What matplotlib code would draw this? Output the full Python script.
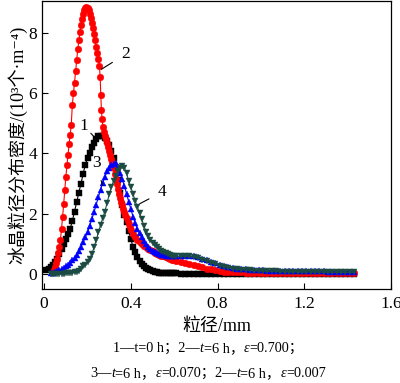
import matplotlib
matplotlib.use("Agg")
import matplotlib.pyplot as plt

FAM = ["Liberation Serif", "Noto Sans CJK SC", "DejaVu Serif"]
plt.rcParams["font.family"] = FAM

# ---- data ------------------------------------------------------------------
# shared tail grid (all four curves), mm
x_tail = [0.63, 0.65, 0.67, 0.69, 0.71, 0.73, 0.75, 0.77, 0.79, 0.81,
          0.83, 0.85, 0.87, 0.89, 0.91, 0.93, 0.95, 0.97, 0.99, 1.01,
          1.03, 1.05, 1.07, 1.09, 1.11, 1.13, 1.15, 1.17, 1.19, 1.21,
          1.23, 1.25, 1.27, 1.29, 1.31, 1.33, 1.35, 1.37, 1.39, 1.41, 1.43]

# curve 1: t = 0 h
x1 = [0.01, 0.02, 0.03, 0.04, 0.05, 0.06, 0.07, 0.08, 0.09, 0.10,
      0.11, 0.12, 0.13, 0.14, 0.15, 0.16, 0.17, 0.18, 0.19, 0.20,
      0.21, 0.22, 0.23, 0.24, 0.25, 0.26, 0.27, 0.28, 0.29, 0.30,
      0.31, 0.32, 0.33, 0.34, 0.35, 0.36, 0.37, 0.38, 0.39, 0.40,
      0.41, 0.42, 0.43, 0.44, 0.45, 0.46, 0.47, 0.48, 0.49, 0.50,
      0.51, 0.52, 0.53, 0.54, 0.55, 0.56, 0.57, 0.58, 0.59, 0.60, 0.61]
y1 = [0.14, 0.17, 0.22, 0.29, 0.38, 0.50, 0.66, 0.84, 1.00, 1.17,
      1.32, 1.50, 1.76, 2.07, 2.38, 2.70, 3.00, 3.33, 3.63, 3.85,
      4.02, 4.20, 4.36, 4.48, 4.56, 4.59, 4.57, 4.50, 4.40, 4.27,
      4.08, 3.84, 3.50, 3.10, 2.70, 2.30, 1.96, 1.72, 1.44, 1.15,
      0.90, 0.73, 0.57, 0.43, 0.34, 0.27, 0.21, 0.16, 0.12, 0.09,
      0.06, 0.05, 0.04, 0.03, 0.03, 0.02, 0.02, 0.02, 0.02, 0.02, 0.02]
y1_tail = [0.01] * 41

# curve 2: t = 6 h, eps = 0.700
x2 = [0.040, 0.045, 0.050, 0.055, 0.060, 0.065, 0.070, 0.075, 0.080, 0.085,
      0.090, 0.095, 0.100, 0.105, 0.110, 0.115, 0.120, 0.125, 0.130, 0.135,
      0.140, 0.145, 0.150, 0.155, 0.160, 0.165, 0.170, 0.175, 0.180, 0.185,
      0.190, 0.195, 0.200, 0.205, 0.210, 0.215, 0.220, 0.225, 0.230, 0.235,
      0.240, 0.245, 0.250, 0.255, 0.258, 0.261, 0.264, 0.267, 0.271, 0.275,
      0.280, 0.285, 0.290, 0.295, 0.300, 0.305, 0.310, 0.315, 0.320, 0.325,
      0.330, 0.335, 0.340, 0.345, 0.350, 0.355, 0.360, 0.365, 0.370, 0.375,
      0.380, 0.385, 0.390, 0.395, 0.400, 0.41, 0.42, 0.43, 0.44, 0.45,
      0.46, 0.47, 0.48, 0.49, 0.50, 0.51, 0.52, 0.53, 0.54, 0.55,
      0.56, 0.57, 0.58, 0.59, 0.60, 0.61]
y2 = [0.05, 0.13, 0.24, 0.35, 0.50, 0.68, 0.90, 1.14, 1.48, 1.88,
      2.32, 2.78, 3.22, 3.60, 3.96, 4.30, 4.62, 4.95, 5.62, 6.00,
      6.35, 6.72, 7.10, 7.45, 7.75, 8.02, 8.25, 8.45, 8.62, 8.74,
      8.81, 8.84, 8.82, 8.74, 8.62, 8.50, 8.34, 8.15, 7.95, 7.75,
      7.54, 7.34, 7.14, 6.90, 6.55, 5.95, 5.45, 5.15, 4.88, 4.72,
      4.58, 4.48, 4.36, 4.22, 4.08, 3.95, 3.82, 3.68, 3.52, 3.33,
      3.15, 2.98, 2.82, 2.66, 2.52, 2.40, 2.28, 2.17, 2.06, 1.95,
      1.85, 1.75, 1.65, 1.55, 1.47, 1.33, 1.22, 1.13, 1.05, 0.99,
      0.93, 0.88, 0.83, 0.79, 0.75, 0.71, 0.67, 0.64, 0.61, 0.58,
      0.55, 0.52, 0.50, 0.47, 0.45, 0.43]
y2_tail = [0.40, 0.37, 0.34, 0.30, 0.26, 0.22, 0.18, 0.15, 0.12, 0.10,
           0.08, 0.07, 0.06, 0.05, 0.05, 0.04, 0.04, 0.04, 0.04, 0.04,
           0.03, 0.03, 0.03, 0.03, 0.03, 0.03, 0.03, 0.03, 0.03, 0.03,
           0.03, 0.03, 0.03, 0.03, 0.03, 0.03, 0.03, 0.03, 0.03, 0.03, 0.03]

# curves 3 and 4 share one grid below 0.62 mm
x34 = [0.03, 0.04, 0.05, 0.06, 0.07, 0.08, 0.09, 0.10,
       0.11, 0.12, 0.13, 0.14, 0.15, 0.16, 0.17, 0.18, 0.19, 0.20,
       0.21, 0.22, 0.23, 0.24, 0.25, 0.26, 0.27, 0.28, 0.29, 0.30,
       0.31, 0.32, 0.33, 0.34, 0.35, 0.36, 0.37, 0.38, 0.39, 0.40,
       0.41, 0.42, 0.43, 0.44, 0.45, 0.46, 0.47, 0.48, 0.49, 0.50,
       0.51, 0.52, 0.53, 0.54, 0.55, 0.56, 0.57, 0.58, 0.59, 0.60, 0.61]

# curve 3: t = 6 h, eps = 0.070
y3 = [0.02, 0.04, 0.06, 0.09, 0.12, 0.16, 0.20, 0.25,
      0.30, 0.37, 0.45, 0.54, 0.64, 0.76, 0.90, 1.05, 1.22, 1.40,
      1.60, 1.82, 2.05, 2.30, 2.55, 2.80, 3.02, 3.22, 3.40, 3.52,
      3.60, 3.65, 3.67, 3.55, 3.35, 3.14, 2.92, 2.66, 2.40, 2.15,
      1.90, 1.68, 1.50, 1.35, 1.22, 1.10, 0.98, 0.90, 0.82, 0.76,
      0.72, 0.69, 0.66, 0.64, 0.62, 0.61, 0.60, 0.60, 0.60, 0.59, 0.59]
y3_tail = [0.59, 0.60, 0.60, 0.58, 0.55, 0.50, 0.45, 0.40, 0.35, 0.30,
           0.26, 0.23, 0.20, 0.18, 0.16, 0.15, 0.14, 0.13, 0.12, 0.12,
           0.11, 0.11, 0.11, 0.10, 0.10, 0.10, 0.10, 0.10, 0.09, 0.09,
           0.09, 0.09, 0.09, 0.09, 0.08, 0.08, 0.08, 0.08, 0.08, 0.08, 0.08]

# curve 4: t = 6 h, eps = 0.007
y4 = [0.00, 0.00, 0.00, 0.00, 0.00, 0.01, 0.01, 0.02,
      0.02, 0.03, 0.04, 0.05, 0.07, 0.11, 0.17, 0.25, 0.31, 0.38,
      0.50, 0.66, 0.88, 1.12, 1.38, 1.62, 1.85, 2.07, 2.35, 2.64,
      2.88, 3.08, 3.26, 3.42, 3.53, 3.58, 3.52, 3.34, 3.08, 2.88,
      2.65, 2.42, 2.22, 2.02, 1.82, 1.60, 1.40, 1.25, 1.13, 1.03,
      0.95, 0.88, 0.82, 0.77, 0.72, 0.68, 0.65, 0.62, 0.60, 0.59, 0.58]
y4_tail = [0.58, 0.58, 0.58, 0.56, 0.52, 0.47, 0.42, 0.37, 0.32, 0.28,
           0.24, 0.21, 0.18, 0.16, 0.14, 0.13, 0.12, 0.11, 0.10, 0.10,
           0.09, 0.09, 0.09, 0.08, 0.08, 0.08, 0.08, 0.07, 0.07, 0.07,
           0.07, 0.07, 0.06, 0.06, 0.06, 0.06, 0.06, 0.05, 0.05, 0.05, 0.05]

x_ticks = [0, 0.4, 0.8, 1.2, 1.6]
x_ticklabels = ["0", "0.4", "0.8", "1.2", "1.6"]
y_ticks = [0, 2, 4, 6, 8]

# ---- plot -------------------------------------------------------------------
fig = plt.figure(figsize=(4.0, 3.83), dpi=100)
ax = fig.add_axes([0.105, 0.2454, 0.8725, 0.7516])

series = [
    (x1, y1, y1_tail, "#000000", "s", 4.0),
    (x2, y2, y2_tail, "#ff0000", "o", 4.8),
    (x34, y3, y3_tail, "#0000ff", "^", 4.6),
    (x34, y4, y4_tail, "#1b4b43", "v", 4.6),
]
for xs, ys, ys_tail, col, mk, ms in series:
    ax.plot(list(xs) + x_tail, list(ys) + ys_tail, "-", color=col, lw=0.8,
            marker=mk, ms=ms, mec=col, mfc=col, mew=0.3)

# curve numbers with leader lines
labels = [
    ("1", (0.233, 4.53), (0.182, 4.92)),
    ("2", (0.264, 6.79), (0.375, 7.29)),
    ("3", (0.269, 2.94), (0.240, 3.68)),
    ("4", (0.441, 2.33), (0.545, 2.72)),
]
for txt, tip, pos in labels:
    ax.annotate(txt, xy=tip, xytext=pos, fontsize=12.5, ha="center",
                va="center", family=FAM,
                arrowprops=dict(arrowstyle="-", color="k", lw=0.8,
                                shrinkA=5, shrinkB=0))

ax.set_xlim(-0.01, 1.6)
ax.set_ylim(-0.5, 9.05)
ax.set_xticks(x_ticks)
ax.set_xticklabels(x_ticklabels)
ax.set_yticks(y_ticks)
ax.tick_params(direction="in", length=4, width=0.8, labelsize=12.5,
               top=False, right=False)
ax.tick_params(axis="x", pad=5)
for sp in ax.spines.values():
    sp.set_linewidth(0.9)

ax.set_xlabel("粒径/mm", fontsize=13, labelpad=4)
ax.set_ylabel("冰晶粒径分布密度/(10³个·m⁻⁴)", fontsize=13, labelpad=1)

# caption: chain pieces so t and ε can be italic
line1 = [("1—t=0 h；2—", "normal"), ("t", "italic"), ("=6 h，", "normal"),
         ("ε", "italic"), ("=0.700；", "normal")]
line2 = [("3—", "normal"), ("t", "italic"), ("=6 h，", "normal"),
         ("ε", "italic"), ("=0.070；2—", "normal"), ("t", "italic"),
         ("=6 h，", "normal"), ("ε", "italic"), ("=0.007", "normal")]


def caption(x0, y0, parts, size=10.3):
    prev = fig.text(x0, y0, parts[0][0], fontsize=size, style=parts[0][1],
                    ha="left", va="bottom", family=FAM)
    for txt, st in parts[1:]:
        prev = ax.annotate(txt, xy=(1, 0), xycoords=prev, fontsize=size,
                           style=st, ha="left", va="bottom", family=FAM)


caption(0.2825, 0.073, line1)
caption(0.225, 0.008, line2)

fig.savefig("out.png", dpi=100)
